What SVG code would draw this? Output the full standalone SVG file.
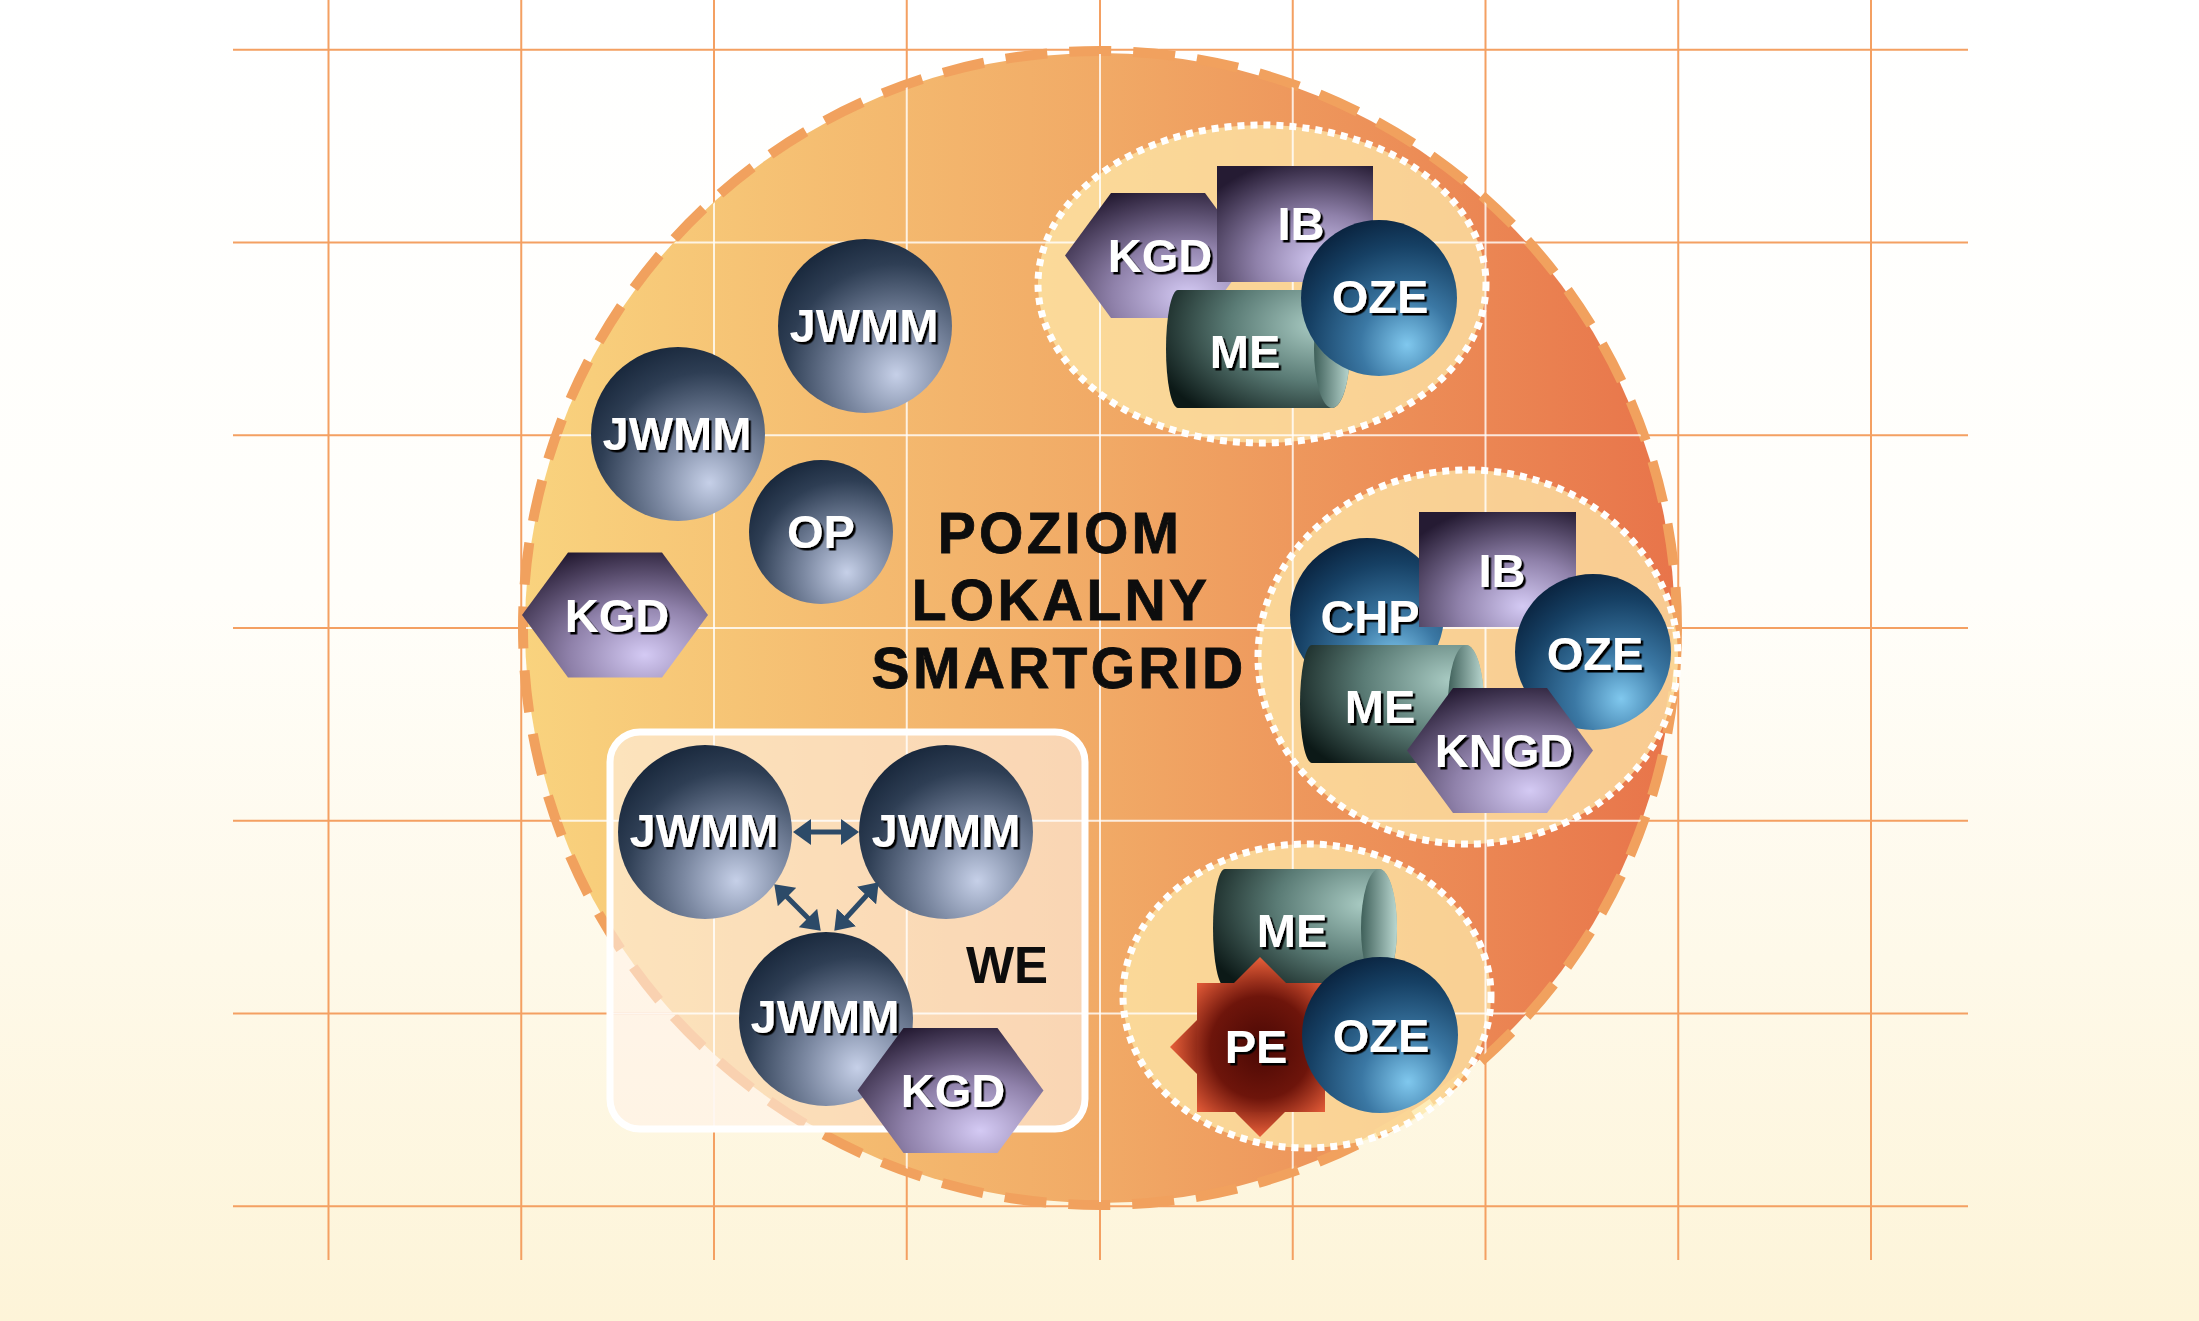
<svg xmlns="http://www.w3.org/2000/svg" xmlns:xlink="http://www.w3.org/1999/xlink" width="2199" height="1321" viewBox="0 0 2199 1321">
<defs>
  <linearGradient id="bg" x1="0" y1="0" x2="0" y2="1">
    <stop offset="0" stop-color="#ffffff"/>
    <stop offset="0.45" stop-color="#fffefa"/>
    <stop offset="1" stop-color="#fdf4d8"/>
  </linearGradient>
  <linearGradient id="circFill" gradientUnits="userSpaceOnUse" x1="522" y1="0" x2="1678" y2="0">
    <stop offset="0" stop-color="#f9d37e"/>
    <stop offset="0.5" stop-color="#f1aa66"/>
    <stop offset="1" stop-color="#e8744a"/>
  </linearGradient>
  <radialGradient id="gSteel" cx="0.68" cy="0.78" r="0.85" fx="0.68" fy="0.78">
    <stop offset="0" stop-color="#c6d0e8"/>
    <stop offset="0.35" stop-color="#7c89a2"/>
    <stop offset="0.75" stop-color="#2e3e54"/>
    <stop offset="1" stop-color="#17263a"/>
  </radialGradient>
  <radialGradient id="gBlue" cx="0.68" cy="0.8" r="0.85" fx="0.68" fy="0.8">
    <stop offset="0" stop-color="#80c8ee"/>
    <stop offset="0.35" stop-color="#3b78a4"/>
    <stop offset="0.75" stop-color="#164064"/>
    <stop offset="1" stop-color="#0a2440"/>
  </radialGradient>
  <radialGradient id="gPurple" cx="0.66" cy="0.82" r="0.9" fx="0.66" fy="0.82">
    <stop offset="0" stop-color="#d4caf4"/>
    <stop offset="0.45" stop-color="#8f81aa"/>
    <stop offset="1" stop-color="#251b33"/>
  </radialGradient>
  <radialGradient id="gCyl" cx="0.82" cy="0.3" r="0.95" fx="0.82" fy="0.3">
    <stop offset="0" stop-color="#a9cbc3"/>
    <stop offset="0.5" stop-color="#5a7b75"/>
    <stop offset="1" stop-color="#0c1917"/>
  </radialGradient>
  <linearGradient id="gCap" x1="0" y1="0" x2="1" y2="0">
    <stop offset="0" stop-color="#3f605a"/>
    <stop offset="1" stop-color="#b9d7d0"/>
  </linearGradient>
  <radialGradient id="gRed" cx="0.5" cy="0.5" r="0.72">
    <stop offset="0" stop-color="#4a0804"/>
    <stop offset="0.55" stop-color="#6e150b"/>
    <stop offset="1" stop-color="#ea5f3a"/>
  </radialGradient>
  <radialGradient id="gRedD" cx="0.5" cy="0.5" r="0.5">
    <stop offset="0" stop-color="#4a0804"/>
    <stop offset="0.6" stop-color="#76190d"/>
    <stop offset="1" stop-color="#e8603a"/>
  </radialGradient>
  <filter id="ts" x="-10%" y="-20%" width="130%" height="150%">
    <feDropShadow dx="2.5" dy="2.5" stdDeviation="0.3" flood-color="#000" flood-opacity="1"/>
  </filter>
  <clipPath id="innerClip">
    <circle cx="1100" cy="628" r="574"/>
    <rect x="610" y="732" width="475" height="397" rx="30"/>
  </clipPath>
  <polygon id="hex" points="-93,0 -47,-62.5 47,-62.5 93,0 47,62.5 -47,62.5"/>
  <g id="cyl">
    <path d="M12,0 H166 A18,59 0 0 1 166,118 H12 A12,59 0 0 1 12,0 Z" fill="url(#gCyl)"/>
    <ellipse cx="166" cy="59" rx="18" ry="59" fill="url(#gCap)"/>
  </g>
  <marker id="ah" markerUnits="userSpaceOnUse" markerWidth="18" markerHeight="26" viewBox="0 0 18 26" refX="1" refY="13" orient="auto-start-reverse">
    <path d="M0,0 L18,13 L0,26 Z" fill="#2c4a68"/>
  </marker>
</defs>
<style>
  .gridO { stroke: #f4a062; stroke-width: 2; fill: none; }
  .gridW { stroke: #ffffff; stroke-opacity: 0.8; stroke-width: 2; fill: none; }
  .steel { fill: url(#gSteel); }
  .blue { fill: url(#gBlue); }
  .purple { fill: url(#gPurple); }
  .zone { fill: #fde8aa; fill-opacity: 0.75; stroke: #ffffff; stroke-width: 7; stroke-dasharray: 7 6; }
  .lbl { font-family: "Liberation Sans", Arial, sans-serif; font-weight: bold; font-size: 47px; fill: #ffffff; text-anchor: middle; filter: url(#ts); }
  .title { font-family: "Liberation Sans", Arial, sans-serif; font-weight: bold; font-size: 57px; fill: #0d0d0d; stroke: #0d0d0d; stroke-width: 0.8; text-anchor: middle; letter-spacing: 3.3px; }
  .conn { stroke: #2c4a68; stroke-width: 5; fill: none; marker-start: url(#ah); marker-end: url(#ah); }
</style>

<rect x="0" y="0" width="2199" height="1321" fill="url(#bg)"/>

<g id="grid-outer">
  <path class="gridO" d="M328.5,0V1260 M521.25,0V1260 M714,0V1260 M906.75,0V1260 M1100,0V1260 M1292.75,0V1260 M1485.5,0V1260 M1678.25,0V1260 M1871,0V1260"/>
  <path class="gridO" d="M233,49.75H1968 M233,242.5H1968 M233,435.25H1968 M233,628H1968 M233,820.75H1968 M233,1013.5H1968 M233,1206.25H1968"/>
</g>

<g id="local-level">
  <circle cx="1100" cy="628" r="575" fill="url(#circFill)"/>
  <circle cx="1100" cy="628" r="577" fill="none" stroke="#f1a15e" stroke-width="10" stroke-dasharray="42 22"/>
</g>

<g id="zones">
  <ellipse id="zone-top" class="zone" cx="1262" cy="284" rx="224" ry="159"/>
  <ellipse id="zone-mid" class="zone" cx="1468" cy="657" rx="210" ry="187"/>
  <ellipse id="zone-bottom" class="zone" cx="1307" cy="996" rx="184" ry="152"/>
</g>

<g id="we-box">
  <rect x="610" y="732" width="475" height="397" rx="30" fill="#fff2e8" fill-opacity="0.6" stroke="#ffffff" stroke-width="7"/>
</g>

<g id="grid-inner" clip-path="url(#innerClip)">
  <path class="gridW" d="M328.5,0V1260 M521.25,0V1260 M714,0V1260 M906.75,0V1260 M1100,0V1260 M1292.75,0V1260 M1485.5,0V1260 M1678.25,0V1260 M1871,0V1260"/>
  <path class="gridW" d="M233,49.75H1968 M233,242.5H1968 M233,435.25H1968 M233,628H1968 M233,820.75H1968 M233,1013.5H1968 M233,1206.25H1968"/>
</g>

<g id="title">
  <text class="title" x="1060" y="553">POZIOM</text>
  <text class="title" x="1061" y="620">LOKALNY</text>
  <text class="title" x="1059" y="688">SMARTGRID</text>
</g>

<g id="jwmm-top"><circle class="steel" cx="865" cy="326" r="87"/><text class="lbl" x="864" y="342">JWMM</text></g>
<g id="jwmm-left"><circle class="steel" cx="678" cy="434" r="87"/><text class="lbl" x="677" y="450">JWMM</text></g>
<g id="op"><circle class="steel" cx="821" cy="532" r="72"/><text class="lbl" x="821" y="548">OP</text></g>
<g id="kgd-left"><use href="#hex" class="purple" transform="translate(615 615)"/><text class="lbl" x="617" y="632">KGD</text></g>

<g id="we-jwmm-1"><circle class="steel" cx="705" cy="832" r="87"/><text class="lbl" x="704" y="847">JWMM</text></g>
<g id="we-jwmm-2"><circle class="steel" cx="946" cy="832" r="87"/><text class="lbl" x="946" y="847">JWMM</text></g>
<g id="we-jwmm-3"><circle class="steel" cx="826" cy="1019" r="87"/><text class="lbl" x="825" y="1033">JWMM</text></g>
<g id="we-kgd"><use href="#hex" class="purple" transform="translate(950.5 1090.5)"/><text class="lbl" x="953" y="1107">KGD</text></g>
<g id="we-label"><text class="lbl" x="1007" y="983" style="fill:#0d0d0d;filter:none;font-size:51px">WE</text></g>

<g id="top-kgd"><use href="#hex" class="purple" transform="translate(1158 255.5)"/><text class="lbl" x="1160" y="272">KGD</text></g>
<g id="top-ib"><rect class="purple" x="1217" y="166" width="156" height="116"/><text class="lbl" x="1301" y="240">IB</text></g>
<g id="top-me"><use href="#cyl" transform="translate(1166 290)"/><text class="lbl" x="1245" y="368">ME</text></g>
<g id="top-oze"><circle class="blue" cx="1379" cy="298" r="78"/><text class="lbl" x="1380" y="313">OZE</text></g>

<g id="mid-chp"><circle class="blue" cx="1367" cy="615" r="77"/><text class="lbl" x="1370" y="633">CHP</text></g>
<g id="mid-ib"><rect class="purple" x="1419" y="512" width="157" height="115"/><text class="lbl" x="1502" y="587">IB</text></g>
<g id="mid-me"><use href="#cyl" transform="translate(1300 645)"/><text class="lbl" x="1380" y="723">ME</text></g>
<g id="mid-oze"><circle class="blue" cx="1593" cy="652" r="78"/><text class="lbl" x="1595" y="670">OZE</text></g>
<g id="mid-kngd"><use href="#hex" class="purple" transform="translate(1500 750.5)"/><text class="lbl" x="1504" y="767">KNGD</text></g>

<g id="bot-me"><use href="#cyl" transform="translate(1213 869)"/><text class="lbl" x="1292" y="947">ME</text></g>
<g id="bot-pe">
  <polygon points="1170,1047 1260,957 1350,1047 1260,1137" fill="url(#gRedD)"/>
  <rect x="1197" y="983" width="128" height="129" fill="url(#gRed)"/>
  <text class="lbl" x="1256" y="1063">PE</text>
</g>
<g id="bot-oze"><circle class="blue" cx="1380" cy="1035" r="78"/><text class="lbl" x="1381" y="1052">OZE</text></g>

<g id="connectors">
  <line class="conn" x1="810" y1="832" x2="842" y2="832"/>
  <line class="conn" x1="786.3" y1="896.3" x2="808.7" y2="918.7"/>
  <line class="conn" x1="867.2" y1="894.8" x2="845.8" y2="918.2"/>
</g>
</svg>
